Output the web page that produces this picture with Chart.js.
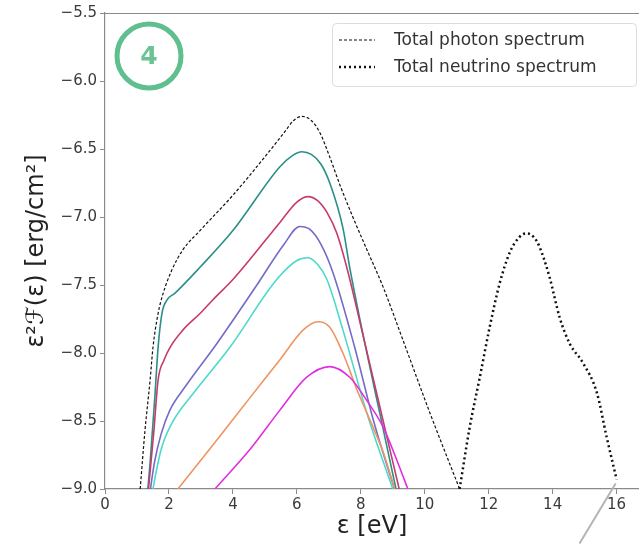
<!DOCTYPE html>
<html>
<head>
<meta charset="utf-8">
<script src="https://cdn.jsdelivr.net/npm/chart.js@4.4.0/dist/chart.umd.min.js"></script>
<style>
  html, body { margin: 0; padding: 0; background: #fff; }
  #wrap { width: 639px; height: 544px; position: relative; }
</style>
</head>
<body>
<div id="wrap"><canvas id="myChart" width="639" height="544"></canvas></div>
<script>
// values (x = energy in eV, y = log flux)
var xTicks = [0, 2, 4, 6, 8, 10, 12, 14, 16]
var yTicks = [-9.0, -8.5, -8.0, -7.5, -7.0, -6.5, -6.0, -5.5]

var photonX = [1.1, 1.25, 1.41, 1.5, 1.66, 1.82, 2.09, 2.44, 2.97, 4.0, 5.06, 5.6, 5.9, 6.16, 6.45, 6.72, 7.03, 7.34, 7.75, 8.19, 8.69, 9.31, 10.16, 11.09]
var photonY = [-9.0, -8.57, -8.2, -7.96, -7.71, -7.56, -7.39, -7.24, -7.1, -6.84, -6.54, -6.38, -6.29, -6.26, -6.29, -6.38, -6.56, -6.76, -7.0, -7.24, -7.51, -7.9, -8.44, -9.0]

var neutrinoX = [11.09, 11.41, 11.72, 12.03, 12.34, 12.66, 12.95, 13.19, 13.42, 13.59, 13.9, 14.22, 14.53, 14.94, 15.38, 15.69, 16.0]
var neutrinoY = [-9.0, -8.54, -8.18, -7.81, -7.49, -7.26, -7.15, -7.12, -7.15, -7.22, -7.44, -7.74, -7.93, -8.07, -8.29, -8.62, -8.93]

var tealX = [1.34, 1.41, 1.56, 1.66, 1.78, 1.94, 2.19, 2.97, 4.0, 5.47, 5.85, 6.16, 6.45, 6.75, 7.03, 7.44, 7.66, 8.1, 8.6, 9.1]
var tealY = [-9.0, -8.81, -8.32, -7.96, -7.71, -7.61, -7.56, -7.37, -7.1, -6.63, -6.55, -6.52, -6.54, -6.61, -6.75, -7.08, -7.38, -7.9, -8.45, -9.0]

var crimsonX = [1.36, 1.53, 1.66, 1.85, 2.03, 2.44, 2.97, 3.37, 4.0, 5.47, 6.0, 6.35, 6.65, 6.95, 7.25, 7.56, 8.1, 8.65, 9.2]
var crimsonY = [-9.0, -8.57, -8.2, -8.05, -7.96, -7.83, -7.71, -7.61, -7.46, -7.04, -6.89, -6.85, -6.88, -6.97, -7.12, -7.37, -7.9, -8.45, -9.0]

var slateX = [1.42, 1.55, 1.75, 2.03, 2.5, 3.5, 4.75, 5.6, 6.09, 6.4, 6.75, 7.13, 7.8, 8.4, 9.05]
var slateY = [-9.0, -8.8, -8.6, -8.42, -8.25, -7.93, -7.5, -7.2, -7.07, -7.09, -7.2, -7.41, -7.95, -8.5, -9.0]

var turqX = [1.5, 1.62, 1.78, 2.13, 2.75, 3.9, 5.37, 6.0, 6.35, 6.65, 6.94, 7.44, 8.2, 9.0]
var turqY = [-9.0, -8.85, -8.69, -8.5, -8.3, -7.96, -7.46, -7.32, -7.3, -7.35, -7.46, -7.83, -8.45, -9.0]

var orangeX = [2.28, 3.4, 4.53, 5.47, 6.2, 6.66, 7.03, 7.44, 7.88, 8.28, 8.7, 9.06]
var orangeY = [-9.0, -8.67, -8.33, -8.05, -7.83, -7.77, -7.81, -8.0, -8.27, -8.49, -8.73, -9.0]

var magentaX = [3.44, 4.53, 5.47, 6.3, 7.03, 7.66, 8.19, 8.69, 9.13, 9.47]
var magentaY = [-9.0, -8.71, -8.42, -8.18, -8.1, -8.18, -8.35, -8.54, -8.79, -9.0]

// grey stroke leaving the frame at the lower right
var pointerX = [14.84, 15.97]
var pointerY = [-9.4, -8.96]

var legendLabels = ["Total photon spectrum", "Total neutrino spectrum"]

function pts(xs, ys) {
    var out = []
    for (let i = 0; i < xs.length; i++) {
        out.push({ x: xs[i], y: ys[i] })
    }
    return out
}

function curve(xs, ys, color, width) {
    return {
        data: pts(xs, ys),
        borderColor: color,
        borderWidth: width,
        pointRadius: 0,
        fill: false,
        cubicInterpolationMode: 'monotone'
    }
}

var magenta = curve(magentaX, magentaY, '#e12fe0', 1.6)
var orange = curve(orangeX, orangeY, '#ef9462', 1.6)
var turq = curve(turqX, turqY, '#4dd9c9', 1.6)
var slate = curve(slateX, slateY, '#746ac9', 1.6)
var crimson = curve(crimsonX, crimsonY, '#c83a6c', 1.6)
var teal = curve(tealX, tealY, '#2a8f86', 1.6)

var photon = curve(photonX, photonY, '#111', 1.2)
photon.borderDash = [3, 2]

var neutrino = curve(neutrinoX, neutrinoY, '#111', 2.5)
neutrino.borderDash = [2, 3]

var pointer = {
    data: pts(pointerX, pointerY),
    borderColor: '#b4b4b4',
    borderWidth: 2,
    pointRadius: 0,
    fill: false,
    clip: false
}

function fmt(v) {
    return v < 0 ? '\u2212' + Math.abs(v).toFixed(1) : v.toFixed(1)
}

// frame top line, the green "4" badge and the boxed legend
var extras = {
    id: 'extras',
    afterDraw: function (chart) {
        var ctx = chart.ctx
        var a = chart.chartArea
        ctx.save()
        ctx.strokeStyle = '#8a8a8a'
        ctx.lineWidth = 1.2
        ctx.beginPath()
        ctx.moveTo(a.left, a.top + 0.5)
        ctx.lineTo(a.right, a.top + 0.5)
        ctx.stroke()

        // badge
        ctx.strokeStyle = '#5fbf8e'
        ctx.lineWidth = 5
        ctx.beginPath()
        ctx.arc(149, 56, 32, 0, Math.PI * 2)
        ctx.stroke()
        ctx.fillStyle = '#6cc294'
        ctx.font = 'bold 25px "DejaVu Sans"'
        ctx.textAlign = 'center'
        ctx.textBaseline = 'middle'
        ctx.fillText('4', 149, 57)

        // legend
        var lx = 332, ly = 23, lw = 304, lh = 63
        ctx.strokeStyle = '#dcdcdc'
        ctx.lineWidth = 1
        ctx.beginPath()
        ctx.roundRect(lx + 0.5, ly + 0.5, lw, lh, 4)
        ctx.fillStyle = 'rgba(255,255,255,0.85)'
        ctx.fill()
        ctx.stroke()

        var rows = [40, 67]
        var styles = [photon, neutrino]
        for (let i = 0; i < rows.length; i++) {
            ctx.strokeStyle = '#111'
            ctx.lineWidth = styles[i].borderWidth
            ctx.setLineDash(styles[i].borderDash)
            ctx.beginPath()
            ctx.moveTo(339, rows[i])
            ctx.lineTo(375, rows[i])
            ctx.stroke()
            ctx.setLineDash([])
            ctx.fillStyle = '#333'
            ctx.font = '17px "DejaVu Sans"'
            ctx.textAlign = 'left'
            ctx.textBaseline = 'middle'
            ctx.fillText(legendLabels[i], 394, rows[i] + 1)
        }
        ctx.restore()
    }
}

var ctx = document.getElementById('myChart').getContext('2d')
var myChart = new Chart(ctx, {
    type: 'line',
    data: {
        datasets: [magenta, orange, turq, slate, crimson, teal, photon, neutrino, pointer]
    },
    options: {
        responsive: false,
        animation: false,
        layout: { padding: { top: 13, right: 0, bottom: 0, left: 0 } },
        plugins: {
            legend: { display: false },
            tooltip: { enabled: false }
        },
        scales: {
            x: {
                type: 'linear',
                min: 0,
                max: 16.7,
                afterBuildTicks: function (axis) {
                    axis.ticks = xTicks.map(v => ({ value: v }))
                },
                afterFit: function (axis) { axis.height = 55 },
                ticks: {
                    color: '#3a3a3a',
                    font: { family: 'DejaVu Sans', size: 15 },
                    padding: 2,
                    maxRotation: 0,
                    callback: function (v) { return String(v) }
                },
                grid: { drawOnChartArea: false, tickLength: 5, color: '#8a8a8a' },
                border: { color: '#8a8a8a', width: 1.2 },
                title: {
                    display: true,
                    text: 'ε [eV]',
                    color: '#222',
                    font: { family: 'DejaVu Sans', size: 24 },
                    padding: { top: 0, bottom: 3 }
                }
            },
            y: {
                type: 'linear',
                min: -9.0,
                max: -5.5,
                afterBuildTicks: function (axis) {
                    axis.ticks = yTicks.map(v => ({ value: v }))
                },
                afterFit: function (axis) { axis.width = 105 },
                ticks: {
                    color: '#3a3a3a',
                    font: { family: 'DejaVu Sans', size: 15 },
                    padding: 3,
                    callback: function (v) { return fmt(v) }
                },
                grid: { drawOnChartArea: false, tickLength: 5, color: '#8a8a8a' },
                border: { color: '#8a8a8a', width: 1.2 },
                title: {
                    display: true,
                    text: 'ε²ℱ(ε) [erg/cm²]',
                    color: '#222',
                    font: { family: 'DejaVu Sans', size: 24 },
                    padding: { top: 22, bottom: 0 }
                }
            }
        }
    },
    plugins: [extras]
})
</script>
</body>
</html>
